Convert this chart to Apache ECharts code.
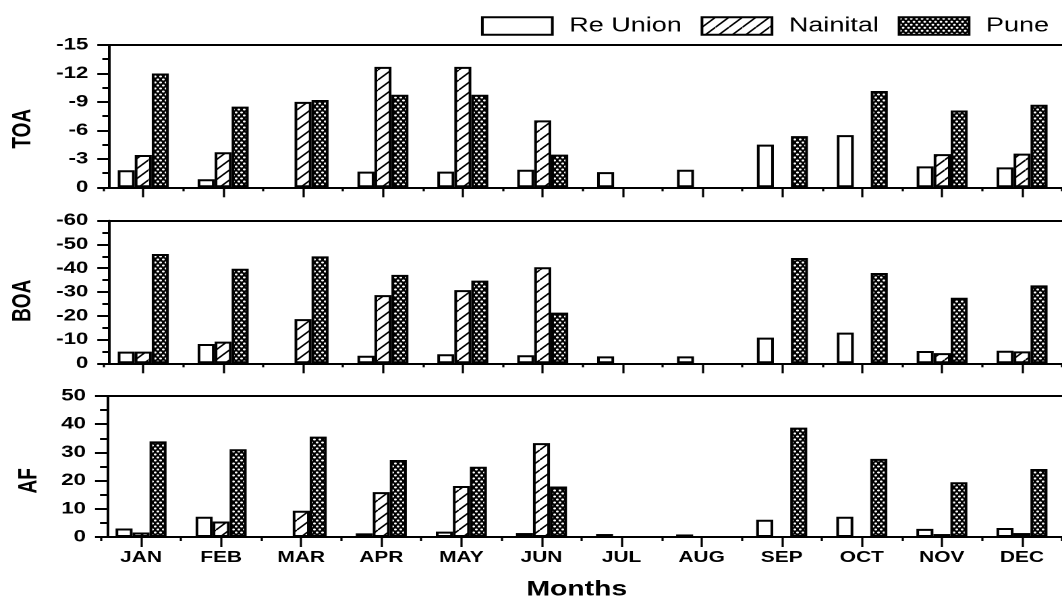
<!DOCTYPE html>
<html>
<head>
<meta charset="utf-8">
<script src="https://cdn.jsdelivr.net/npm/echarts@6/dist/echarts.min.js"></script>
<style>
html,body{margin:0;padding:0;background:#fff;overflow:hidden;}
#wrap{width:1062px;height:601px;overflow:hidden;position:relative;background:#fff;}
#chart{width:787px;height:601px;transform:scaleX(1.349428);transform-origin:0 0;}
</style>
</head>
<body>
<div id="wrap"><div id="chart"></div></div>
<script>
// ---------------- data ----------------
const months = ['JAN','FEB','MAR','APR','MAY','JUN','JUL','AUG','SEP','OCT','NOV','DEC'];
const seriesNames = ['Re Union','Nainital','Pune'];
const panelNames = ['TOA','BOA','AF'];

const toaTicks = [0, -3, -6, -9, -12, -15];
const boaTicks = [0, -10, -20, -30, -40, -50, -60];
const afTicks  = [0, 10, 20, 30, 40, 50];

const toaReUnion  = [-1.8, -0.85, null, -1.65, -1.65, -1.85, -1.6, -1.85, -4.5, -5.5, -2.2, -2.1];
const toaNainital = [-3.4, -3.7, -9.0, -12.7, -12.7, -7.05, null, null, null, null, -3.5, -3.55];
const toaPune     = [-12.0, -8.5, -9.2, -9.75, -9.75, -3.45, null, null, -5.4, -10.15, -8.1, -8.7];

const boaReUnion  = [-4.9, -8.1, null, -3.2, -3.8, -3.4, -2.9, -2.9, -10.8, -12.9, -5.2, -5.3];
const boaNainital = [-4.9, -9.1, -18.6, -28.7, -30.8, -40.4, null, null, null, null, -4.3, -5.0];
const boaPune     = [-46.0, -39.8, -45.0, -37.2, -34.8, -21.3, null, null, -44.3, -38.0, -27.6, -32.8];

const afReUnion   = [3.0, 7.2, null, 1.3, 1.9, 1.4, 1.05, 0.9, 6.1, 7.2, 2.9, 3.2];
const afNainital  = [1.6, 5.5, 9.3, 15.9, 18.1, 33.3, null, null, null, null, 1.05, 1.4];
const afPune      = [33.9, 31.1, 35.6, 27.3, 24.9, 17.9, null, null, 38.8, 27.7, 19.4, 24.1];

// ---------------- styling helpers ----------------
const S = 1062 / 787;            // horizontal stretch of the original figure
const X = v => v / S;            // outer px -> inner px (horizontal only)
const FONT = "'Liberation Sans', Arial, Helvetica, sans-serif";

function makeHatch() {
  const k = 4, w = 10, h = 10;
  const c = document.createElement('canvas');
  c.width = w * k; c.height = h * k;
  const g = c.getContext('2d');
  g.fillStyle = '#fff'; g.fillRect(0, 0, c.width, c.height);
  g.strokeStyle = '#000'; g.lineWidth = 1.4 * k;
  for (let j = -1; j <= 1; j++) {
    g.beginPath();
    g.moveTo(0, (h + j * h) * k);
    g.lineTo(w * k, (j * h) * k);
    g.stroke();
  }
  return { image: c, repeat: 'repeat', scaleX: 1 / k, scaleY: 1 / k };
}
function makeDots() {
  const k = 4, w = 4, h = 6;
  const c = document.createElement('canvas');
  c.width = w * k; c.height = h * k;
  const g = c.getContext('2d');
  g.fillStyle = '#000'; g.fillRect(0, 0, c.width, c.height);
  g.fillStyle = '#fff';
  [[1, 1.5], [3, 4.5]].forEach(p => {
    g.beginPath(); g.arc(p[0] * k, p[1] * k, 1.0 * k, 0, Math.PI * 2); g.fill();
  });
  return { image: c, repeat: 'repeat', scaleX: 1 / k, scaleY: 1 / k };
}
const fills = ['#ffffff', makeHatch(), makeDots()];

const panels = [
  { ticks: toaTicks, data: [toaReUnion, toaNainital, toaPune], top: 45,    height: 142.3, inverse: true,  nameGap: 54, shift: 12.6 },
  { ticks: boaTicks, data: [boaReUnion, boaNainital, boaPune], top: 220.7, height: 142.6, inverse: true,  nameGap: 54, shift: 8.8 },
  { ticks: afTicks,  data: [afReUnion, afNainital, afPune],    top: 396,   height: 142.7, inverse: false, nameGap: 48, shift: 14.3 }
];

const grid = [], xAxis = [], yAxis = [], series = [];
panels.forEach((p, i) => {
  grid.push({ left: X(101), width: X(976.3), top: p.top, height: p.height });
  const isLast = i === panels.length - 1;
  // main bottom axis (ticks at month centres, labels on last panel)
  xAxis.push({
    type: 'category', gridIndex: i, data: months, position: 'bottom', boundaryGap: true,
    axisLine: { show: true, onZero: false, lineStyle: { color: '#000', width: 2 } },
    axisTick: { show: true, alignWithLabel: true, length: 10, lineStyle: { color: '#000', width: 1.6 } },
    axisLabel: { show: isLast, color: '#000', fontFamily: FONT, fontWeight: 'bold', fontSize: 15.5, margin: 12.5 },
    splitLine: { show: false },
    name: isLast ? 'Months' : '', nameLocation: 'middle', nameGap: 42,
    nameTextStyle: { color: '#000', fontFamily: FONT, fontWeight: 'bold', fontSize: 21, padding: [0, 7, 0, 0] }
  });
  // boundary ticks
  xAxis.push({
    type: 'category', gridIndex: i, data: months, position: 'bottom', boundaryGap: true,
    axisLine: { show: false, onZero: false },
    axisTick: { show: true, alignWithLabel: false, length: 4, lineStyle: { color: '#000', width: 1.6 } },
    axisLabel: { show: false }, splitLine: { show: false }
  });
  // top frame line
  xAxis.push({
    type: 'category', gridIndex: i, data: months, position: 'top', boundaryGap: true,
    axisLine: { show: true, onZero: false, lineStyle: { color: '#000', width: 2 } },
    axisTick: { show: false }, axisLabel: { show: false }, splitLine: { show: false }
  });
  const t = p.ticks;
  yAxis.push({
    type: 'value', gridIndex: i,
    min: Math.min(...t), max: Math.max(...t), interval: Math.abs(t[1] - t[0]),
    inverse: p.inverse, offset: -X(6),
    axisLine: { show: true, lineStyle: { color: '#000', width: 2 } },
    axisTick: { show: true, length: X(12), lineStyle: { color: '#000', width: 2 } },
    minorTick: { show: true, splitNumber: 2, length: X(7), lineStyle: { color: '#000', width: 2 } },
    axisLabel: { color: '#000', fontFamily: FONT, fontWeight: 'bold', fontSize: 16.5, margin: X(21) },
    splitLine: { show: false },
    name: panelNames[i], nameLocation: 'middle', nameGap: p.nameGap,
    nameTextStyle: { color: '#000', fontFamily: FONT, fontWeight: 'bold', fontSize: 19, padding: [0, 2 * p.shift, 0, 0] }
  });
  seriesNames.forEach((name, s) => {
    series.push({
      type: 'bar', name: name, xAxisIndex: i * 3, yAxisIndex: i,
      data: p.data[s], barWidth: X(17), barGap: '0%',
      itemStyle: { color: fills[s], borderColor: '#000', borderWidth: 2 },
      emphasis: { disabled: true }
    });
  });
});

const chart = echarts.init(document.getElementById('chart'), null, { renderer: 'canvas', devicePixelRatio: 2 });
chart.setOption({
  animation: false,
  backgroundColor: '#fff',
  textStyle: { fontFamily: FONT },
  legend: {
    data: seriesNames, left: X(481), top: 16, padding: 0,
    icon: 'rect', itemWidth: X(70), itemHeight: 17.5, itemGap: 14,
    selectedMode: false,
    itemStyle: { borderColor: '#000', borderWidth: 2 },
    textStyle: { color: '#000', fontFamily: FONT, fontSize: 20, padding: [0, 0, 0, 7.5] }
  },
  grid: grid, xAxis: xAxis, yAxis: yAxis, series: series
});
</script>
</body>
</html>
